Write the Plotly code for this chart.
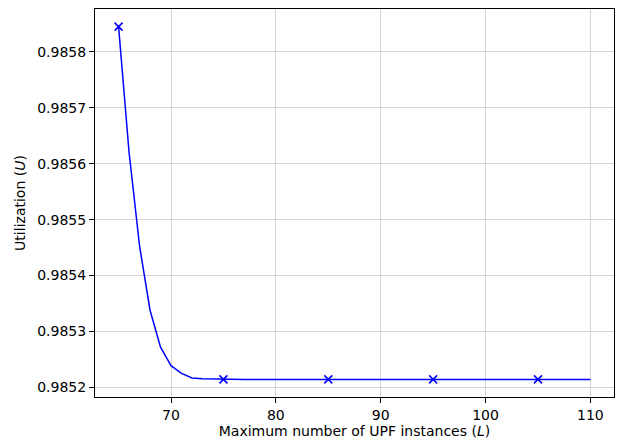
import plotly.graph_objects as go

L_values = list(range(65, 111))
head_util = [0.985845, 0.98562, 0.985453, 0.985338, 0.985272, 0.985239,
             0.985225, 0.985217, 0.9852155, 0.985215]
flat_util = 0.9852143
utilization = head_util + [flat_util] * (len(L_values) - len(head_util))

marker_every = 10
mark_x = L_values[::marker_every]
mark_y = utilization[::marker_every]

x_ticks = [70, 80, 90, 100, 110]
y_ticks = [0.9852, 0.9853, 0.9854, 0.9855, 0.9856, 0.9857, 0.9858]

fig = go.Figure()
fig.add_trace(go.Scatter(x=L_values, y=utilization, mode="lines",
                         line=dict(color="#0000ff", width=1.5),
                         showlegend=False, hoverinfo="skip"))
fig.add_trace(go.Scatter(x=mark_x, y=mark_y, mode="markers",
                         marker=dict(symbol="x-thin", size=8, color="#0000ff",
                                     line=dict(color="#0000ff", width=1.6)),
                         showlegend=False))

font = dict(family="DejaVu Sans", size=14, color="black")
fig.update_layout(
    width=620, height=442,
    margin=dict(l=95, r=6, t=9, b=45),
    paper_bgcolor="white", plot_bgcolor="white",
    font=font,
    xaxis=dict(range=[62.75, 112.25], tickvals=x_ticks, automargin=False,
               ticks="outside", ticklen=5, tickcolor="black", tickwidth=1,
               showline=True, linecolor="black", linewidth=1, mirror=True,
               showgrid=True, gridcolor="#d6d6d6", gridwidth=1, zeroline=False,
               title=dict(text="Maximum number of UPF instances (<i>L</i>)",
                          font=font, standoff=3)),
    yaxis=dict(range=[0.9851829, 0.9858765], tickvals=y_ticks, automargin=False,
               tickformat=".4f",
               ticks="outside", ticklen=5, tickcolor="black", tickwidth=1,
               showline=True, linecolor="black", linewidth=1, mirror=True,
               showgrid=True, gridcolor="#d6d6d6", gridwidth=1, zeroline=False,
               title=dict(text="Utilization (<i>U</i>)", font=font, standoff=8)),
)
fig.write_html("out.html", config={"displayModeBar": False},
               post_script="document.body.style.margin='0';document.body.style.overflow='hidden';")
